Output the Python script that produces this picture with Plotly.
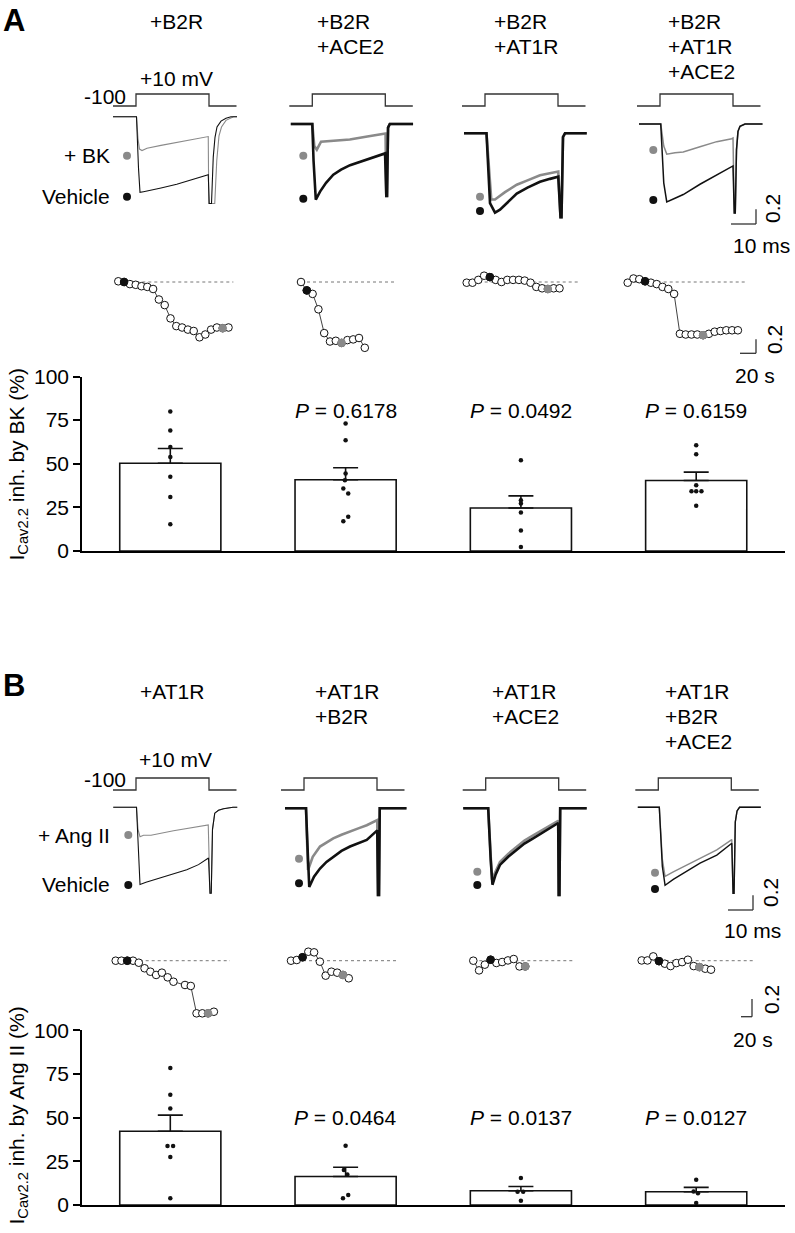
import plotly.graph_objects as go

W, H = 795, 1233
FONT = "Arial, Liberation Sans, sans-serif"
FS = 21
BLACK = "#111111"
GRAY = "#8a8a8a"
VCOL = "#333333"

# ---------------- data ----------------
LABELS_A = [["+B2R"], ["+B2R", "+ACE2"], ["+B2R", "+AT1R"], ["+B2R", "+AT1R", "+ACE2"]]
LABELS_B = [["+AT1R"], ["+AT1R", "+B2R"], ["+AT1R", "+ACE2"], ["+AT1R", "+B2R", "+ACE2"]]

# voltage protocol (ms, mV)
V_T = [-9.2, 0, 0, 29.2, 29.2, 40.2]
V_MV = [-100, -100, 10, 10, -100, -100]

# current traces (ms, normalised current); VEH = vehicle, BK / ANG = agonist
A1_VEH_T = [-9.2, 0.2, 1.0, 1.6, 3.0, 6.0, 10.0, 16.3, 22.0, 28.9, 29.3, 30.2, 30.9, 31.6, 32.4, 34.0, 36.0, 38.0, 40.4]
A1_VEH_I = [0.0, 0.0, -0.7, -1.03, -1.02, -1.0, -0.97, -0.92, -0.86, -0.79, -1.18, -1.18, -0.55, -0.28, -0.14, -0.06, -0.02, 0.0, 0.0]
A1_BK_T = [-9.2, 0.2, 0.8, 1.4, 2.4, 4.4, 10.0, 16.3, 22.0, 28.9, 29.1, 31.5, 32.3, 33.2, 34.2, 36.0, 39.0, 40.4]
A1_BK_I = [0.0, 0.0, -0.3, -0.44, -0.46, -0.43, -0.39, -0.35, -0.31, -0.27, -1.18, -1.18, -0.6, -0.26, -0.14, -0.05, 0.0, 0.0]

A2_VEH_T = [-8.6, 0.0, 0.5, 1.4, 3.1, 5.5, 8.4, 11.5, 15.1, 21.8, 29.1, 29.6, 29.9, 30.3, 31.0, 40.3]
A2_VEH_I = [0.0, 0.0, -0.5, -1.03, -0.92, -0.8, -0.69, -0.62, -0.56, -0.48, -0.40, -0.98, -0.98, -0.05, 0.0, 0.0]
A2_BK_T = [-8.6, 0.0, 0.8, 1.8, 3.5, 8.0, 15.0, 22.0, 29.3, 29.6, 29.9, 30.3, 31.0, 40.3]
A2_BK_I = [0.0, 0.0, -0.3, -0.35, -0.24, -0.23, -0.21, -0.17, -0.13, -0.98, -0.98, -0.05, 0.0, 0.0]

A3_VEH_T = [-8.4, 0.6, 2.0, 4.0, 6.0, 9.0, 12.7, 17.0, 22.0, 26.0, 29.3, 30.2, 30.6, 31.2, 32.0, 40.7]
A3_VEH_I = [0.0, 0.0, -0.95, -1.08, -1.04, -0.94, -0.82, -0.74, -0.66, -0.62, -0.59, -1.14, -1.14, -0.05, 0.0, 0.0]
A3_BK_T = [-8.4, 0.6, 2.5, 4.0, 8.0, 12.7, 17.0, 22.0, 29.3, 30.2, 30.6, 31.2, 32.0, 40.7]
A3_BK_I = [0.0, 0.0, -0.9, -0.9, -0.8, -0.70, -0.64, -0.57, -0.52, -1.14, -1.14, -0.05, 0.0, 0.0]

A4_VEH_T = [-8.4, 0.3, 1.5, 2.7, 6.0, 9.3, 16.0, 22.7, 29.2, 29.7, 30.1, 30.6, 31.2, 32.0, 34.0, 41.0]
A4_VEH_I = [0.0, 0.0, -0.8, -1.06, -1.01, -0.96, -0.82, -0.69, -0.57, -1.21, -1.21, -0.35, -0.1, -0.03, 0.0, 0.0]
A4_BK_T = [-8.4, 0.3, 1.5, 2.7, 6.0, 9.3, 16.0, 22.7, 28.7, 29.2, 29.7, 30.1, 30.6, 31.2, 32.0, 34.0, 41.0]
A4_BK_I = [0.0, 0.0, -0.3, -0.41, -0.39, -0.38, -0.31, -0.24, -0.20, -0.19, -1.21, -1.21, -0.35, -0.1, -0.03, 0.0, 0.0]

B1_VEH_T = [-9.1, 0.2, 1.0, 1.6, 4.0, 8.0, 12.3, 16.0, 20.3, 25.0, 29.0, 29.6, 30.1, 30.6, 31.5, 33.0, 35.0, 38.8, 40.5]
B1_VEH_I = [0.0, 0.0, -0.6, -1.05, -1.02, -0.98, -0.94, -0.90, -0.85, -0.78, -0.69, -1.17, -1.17, -0.3, -0.08, -0.04, -0.02, 0.0, 0.0]
B1_ANG_T = [-9.1, 0.2, 0.8, 1.6, 3.0, 6.0, 15.0, 22.0, 28.9, 29.6, 30.1, 30.6, 31.5, 33.0, 35.0, 38.8, 40.5]
B1_ANG_I = [0.0, 0.0, -0.3, -0.40, -0.38, -0.38, -0.32, -0.28, -0.24, -1.17, -1.17, -0.3, -0.08, -0.04, -0.02, 0.0, 0.0]

B2_VEH_T = [-7.6, 0.8, 1.5, 2.1, 4.0, 6.4, 9.0, 11.7, 15.0, 18.4, 22.0, 25.1, 29.3, 29.6, 30.0, 30.3, 41.0]
B2_VEH_I = [0.0, 0.0, -0.6, -1.07, -0.93, -0.82, -0.73, -0.66, -0.58, -0.52, -0.47, -0.43, -0.30, -1.18, -1.18, 0.0, 0.0]
B2_ANG_T = [-7.6, 0.8, 1.6, 3.5, 6.4, 9.0, 11.7, 15.0, 18.4, 22.0, 25.1, 29.3, 29.6, 30.0, 30.3, 41.0]
B2_ANG_I = [0.0, 0.0, -0.84, -0.66, -0.52, -0.46, -0.41, -0.36, -0.32, -0.27, -0.23, -0.16, -1.18, -1.18, 0.0, 0.0]

B3_VEH_T = [-9.0, 1.0, 2.0, 2.7, 4.0, 5.7, 9.0, 12.3, 15.5, 19.0, 22.5, 25.7, 29.0, 29.2, 29.5, 29.8, 40.4]
B3_VEH_I = [0.0, 0.0, -0.7, -1.04, -0.9, -0.77, -0.66, -0.57, -0.48, -0.41, -0.34, -0.27, -0.20, -1.18, -1.18, 0.0, 0.0]
B3_ANG_T = [-9.0, 1.0, 2.5, 4.0, 5.7, 9.0, 12.3, 15.5, 19.0, 22.5, 25.7, 29.0, 29.2, 29.5, 29.8, 40.4]
B3_ANG_I = [0.0, 0.0, -0.97, -0.85, -0.73, -0.62, -0.53, -0.44, -0.37, -0.30, -0.24, -0.17, -1.18, -1.18, 0.0, 0.0]

B4_VEH_T = [-8.2, 0.4, 1.6, 2.7, 6.0, 10.0, 16.7, 23.4, 29.4, 29.9, 30.3, 30.8, 31.5, 32.5, 41.0]
B4_VEH_I = [0.0, 0.0, -0.8, -1.06, -0.98, -0.90, -0.76, -0.65, -0.49, -1.17, -1.17, -0.2, -0.05, 0.0, 0.0]
B4_ANG_T = [-8.2, 0.4, 1.6, 2.7, 6.0, 10.0, 16.7, 23.4, 29.4, 29.9, 30.3, 30.8, 31.5, 32.5, 41.0]
B4_ANG_I = [0.0, 0.0, -0.7, -0.94, -0.88, -0.81, -0.69, -0.58, -0.44, -1.17, -1.17, -0.2, -0.05, 0.0, 0.0]

# time courses (s, normalised amplitude)
TC_T_A = [0, 7.25, 14.5, 21.75, 29, 36.25, 43.5, 50.75, 58, 65.25, 72.5, 79.75, 87, 94.25,
          101.5, 108.75, 116, 123.25, 130.5, 137.75]
TC_T_B = [0, 10.5, 21, 31.5, 42, 52.5, 63, 73.5, 84, 94.5, 105, 115.5, 126, 136.5, 147, 157.5, 168, 178.5]
A1_TC = [1.01, 1.00, 0.97, 0.96, 0.94, 0.93, 0.90, 0.75, 0.67, 0.48, 0.37, 0.35, 0.32, 0.30, 0.21, 0.25, 0.32, 0.35, 0.34, 0.35]
A2_TC = [1.0, 0.88, 0.83, 0.61, 0.27, 0.15, 0.16, 0.13, 0.17, 0.18, 0.20, 0.06]
A3_TC = [0.99, 0.99, 1.03, 1.09, 1.07, 1.03, 1.00, 1.03, 1.03, 1.03, 1.02, 0.99, 0.93, 0.91, 0.90, 0.91, 0.91]
A4_TC = [0.99, 1.05, 1.04, 1.01, 0.99, 0.97, 0.93, 0.90, 0.83, 0.26, 0.25, 0.25, 0.25, 0.24, 0.26, 0.29, 0.30, 0.31, 0.31, 0.31]
B1_TC = [1.0, 1.0, 1.0, 1.0, 0.977, 0.914, 0.875, 0.838, 0.864, 0.811, 0.761, None, 0.724, 0.713, 0.402, 0.402, 0.402, 0.420]
B2_TC = [1.0, 1.008, 1.039, 1.102, 1.095, 0.989, 0.83, 0.875, 0.864, 0.838, 0.80]
B3_TC = [1.0, 0.89, 0.955, 1.011, 0.974, 0.985, 1.003, 1.019, 0.935, 0.935]
B4_TC = [1.003, 1.003, 1.049, 0.995, 0.966, 0.939, 0.973, 0.984, 1.011, 0.939, 0.927, 0.909, 0.898]
TC_MARK_A = [(1, 18), (1, 7), (4, 14), (3, 13)]   # (vehicle sweep, agonist sweep)
TC_MARK_B = [(2, 16), (2, 9), (3, 9), (3, 10)]
TC_END_A = [143.8, 120, 141.6, 148.8]             # end of dotted baseline (s)
TC_END_B = [207.8, 192.7, 181.8, 202.9]

# bar chart data (% inhibition)
BAR_X = [0, 1, 2, 3]
A_MEAN = [50.3, 40.8, 24.6, 40.4]
A_SEM = [8.4, 6.9, 7.0, 4.8]
A_PTS_1 = [80.0, 69.1, 59.6, 53.9, 42.5, 30.9, 15.4]
A_PTS_2 = [73.0, 63.4, 44.4, 40.6, 35.8, 33.0, 19.6, 17.1]
A_PTS_3 = [52.0, 29.1, 27.2, 22.1, 11.8, 2.3]
A_PTS_4 = [60.6, 55.4, 37.7, 34.3, 34.3, 34.3, 25.9]
A_P = ["", "0.6178", "0.0492", "0.6159"]

B_MEAN = [42.2, 16.3, 8.2, 7.6]
B_SEM = [9.3, 5.3, 2.4, 2.5]
B_PTS_1 = [78.4, 63.1, 55.3, 33.8, 33.8, 27.5, 3.8]
B_PTS_2 = [34.0, 20.1, 17.4, 5.7, 3.8]
B_PTS_3 = [15.5, 7.6, 7.6, 2.5]
B_PTS_4 = [14.5, 7.8, 6.7, 1.1]
B_P = ["", "0.0464", "0.0137", "0.0127"]

# ---------------- layout geometry (pixels) ----------------
A_JIT = [[0] * 7, [0, 0, 0, -0.004, -0.013, 0.015, 0.015, -0.013], [0] * 6, [0, 0, 0, -0.027, 0, 0.03, 0]]
B_JIT = [[0, 0, 0, -0.016, 0.016, 0, 0], [0, -0.01, 0.01, 0.015, -0.015], [0, -0.019, 0.013, 0], [0, -0.015, 0.01, 0]]

PX_PER_MS = 2.5
PX_PER_I = 73.5
PX_PER_MV = 12 / 110
SB_MS, SB_I, SB_TC_S, SB_TC_U = 10, 0.2, 20, 0.2

PANELS = {
    "A": dict(xs=[136, 312.3, 485, 660], yb=[116.7, 124, 133.3, 124], yv=106,
              tcx=[118.3, 301, 466.7, 627.7], tcy=282.0, tc_s=0.8, tc_u=70.0,
              bar=(376.5, 551), lbl_x=[147.7, 315, 491.7, 666], lbl_y=21.7),
    "B": dict(xs=[136, 304, 485.7, 658.3], yb=[807.3, 808.3, 808.3, 807.3], yv=790,
              tcx=[115.7, 291, 473.3, 641.7], tcy=960.7, tc_s=0.55, tc_u=88.0,
              bar=(1030.4, 1205), lbl_x=[138.3, 313.3, 490, 663.3], lbl_y=691.7),
}

fig = go.Figure()
axes = {}
n_ax = [0]
ann = []
shapes = []


def new_axes(x0, x1, y0, y1, xr, yr):
    n_ax[0] += 1
    k = n_ax[0]
    s = "" if k == 1 else str(k)
    axes["xaxis" + s] = dict(domain=[x0 / W, x1 / W], range=xr, visible=False, fixedrange=True,
                             anchor="y" + s, automargin=False)
    axes["yaxis" + s] = dict(domain=[1 - y1 / H, 1 - y0 / H], range=yr, visible=False, fixedrange=True,
                             anchor="x" + s, automargin=False)
    return "x" + s, "y" + s


def text(t, x, y, size=FS, xanchor="center", angle=0):
    ann.append(dict(text=t, x=x / W, y=1 - y / H, xref="paper", yref="paper", showarrow=False,
                    xanchor=xanchor, yanchor="middle", textangle=angle,
                    font=dict(family=FONT, size=size, color="black")))


def seg(x0, y0, x1, y1, w=1.3, color=VCOL):
    shapes.append(dict(type="line", xref="paper", yref="paper", x0=x0 / W, y0=1 - y0 / H,
                       x1=x1 / W, y1=1 - y1 / H, line=dict(color=color, width=w)))


def keydot(x, y, color, d=8):
    shapes.append(dict(type="circle", xref="paper", yref="paper", x0=(x - d / 2) / W, x1=(x + d / 2) / W,
                       y0=1 - (y + d / 2) / H, y1=1 - (y - d / 2) / H, fillcolor=color,
                       line=dict(color=color, width=0)))


def line_trace(x, y, xa, ya, color, width, dash="solid"):
    fig.add_trace(go.Scatter(x=x, y=y, mode="lines", line=dict(color=color, width=width, dash=dash),
                             xaxis=xa, yaxis=ya, hoverinfo="skip", cliponaxis=True))


def draw_traces(P, c, veh, drug, wid):
    xs, yb, yv = P["xs"][c], P["yb"][c], P["yv"]
    xr = [-30 / PX_PER_MS, 115 / PX_PER_MS]
    xa, ya = new_axes(xs - 30, xs + 115, yv - 16, yv + 4, xr,
                      [-100 - 4 / PX_PER_MV, -100 + 16 / PX_PER_MV])
    line_trace(V_T, V_MV, xa, ya, VCOL, 1.3)
    xa, ya = new_axes(xs - 30, xs + 115, yb - 10, yb + 100, xr, [-100 / PX_PER_I, 10 / PX_PER_I])
    line_trace(drug[0], drug[1], xa, ya, GRAY, wid)
    line_trace(veh[0], veh[1], xa, ya, BLACK, wid)


def draw_tc(P, c, tt, vals, marks, t_end):
    x0, yt, ps, pu = P["tcx"][c], P["tcy"], P["tc_s"], P["tc_u"]
    xa, ya = new_axes(x0 - 10, x0 + 145, yt - 25, yt + 75, [-10 / ps, 145 / ps], [1 - 75 / pu, 1 + 25 / pu])
    line_trace([0, t_end], [1, 1], xa, ya, "#777777", 1, "dot")
    t = tt[:len(vals)]
    fig.add_trace(go.Scatter(x=t, y=vals, mode="lines+markers", connectgaps=True,
                             line=dict(color=BLACK, width=0.8),
                             marker=dict(size=7.6, color="white", line=dict(color=BLACK, width=1)),
                             xaxis=xa, yaxis=ya, hoverinfo="skip", cliponaxis=False))
    for idx, col in zip(marks, [BLACK, GRAY]):
        fig.add_trace(go.Scatter(x=[t[idx]], y=[vals[idx]], mode="markers",
                                 marker=dict(size=7.6, color=col, line=dict(color=col, width=1)),
                                 xaxis=xa, yaxis=ya, hoverinfo="skip", cliponaxis=False))


def draw_bars(P, means, sems, pts_list, jit_list, pvals, p_y):
    y0, y1 = P["bar"]
    c0, sp = 170.3, 175.3
    xa, ya = new_axes(82, 785, y0, y1, [(82 - c0) / sp, (785 - c0) / sp], [0, 100])
    kx = "xaxis" + xa[1:]
    ky = "yaxis" + ya[1:]
    axes[kx].update(visible=True, showline=True, linecolor="black", linewidth=1.6, ticks="",
                    showticklabels=False, showgrid=False, zeroline=False)
    axes[ky].update(visible=True, showline=True, linecolor="black", linewidth=1.6, ticks="outside",
                    ticklen=7, tickwidth=1.6, tickcolor="black", tickvals=[0, 25, 50, 75, 100],
                    tickfont=dict(family=FONT, size=FS, color="black"), showgrid=False, zeroline=False)
    fig.add_trace(go.Bar(x=BAR_X, y=means, width=0.577,
                         marker=dict(color="white", line=dict(color=BLACK, width=1.6)),
                         error_y=dict(type="data", symmetric=False, array=sems, arrayminus=[0] * 4,
                                      color=BLACK, thickness=1.6, width=12.5),
                         xaxis=xa, yaxis=ya, hoverinfo="skip"))
    for i, (pts, jit) in enumerate(zip(pts_list, jit_list)):
        fig.add_trace(go.Scatter(x=[i + j for j in jit], y=pts, mode="markers",
                                 marker=dict(size=4.5, color=BLACK), xaxis=xa, yaxis=ya,
                                 hoverinfo="skip", cliponaxis=False))
    for i, p in enumerate(pvals):
        if p:
            ann.append(dict(text="<i>P</i> = " + p, x=i, y=p_y, xref=xa, yref=ya, showarrow=False,
                            xanchor="center", yanchor="middle",
                            font=dict(family=FONT, size=FS, color="black")))


# ---------------- panel A ----------------
PA = PANELS["A"]
text("<b>A</b>", 14, 20, size=31)
for c, lines in enumerate(LABELS_A):
    for k, ln in enumerate(lines):
        text(ln, PA["lbl_x"][c], PA["lbl_y"] + 25 * k, xanchor="left")
text("-100", 128, 96.7, xanchor="right")
text("+10 mV", 176.7, 78.7)
text("+ BK", 112, 155.7, xanchor="right")
text("Vehicle", 112, 196.7, xanchor="right")
for (gx, gy, bx, by) in [(127, 155.7, 127, 196.7), (303.3, 155.7, 303.3, 198.7),
                         (480, 196.7, 480, 211), (653.3, 150, 653.3, 200)]:
    keydot(gx, gy, GRAY)
    keydot(bx, by, BLACK)

draw_traces(PA, 0, (A1_VEH_T, A1_VEH_I), (A1_BK_T, A1_BK_I), 1.1)
draw_traces(PA, 1, (A2_VEH_T, A2_VEH_I), (A2_BK_T, A2_BK_I), 2.6)
draw_traces(PA, 2, (A3_VEH_T, A3_VEH_I), (A3_BK_T, A3_BK_I), 2.6)
draw_traces(PA, 3, (A4_VEH_T, A4_VEH_I), (A4_BK_T, A4_BK_I), 1.5)

for c, (vals, mk, te) in enumerate(zip([A1_TC, A2_TC, A3_TC, A4_TC], TC_MARK_A, TC_END_A)):
    draw_tc(PA, c, TC_T_A, vals, mk, te)

draw_bars(PA, A_MEAN, A_SEM, [A_PTS_1, A_PTS_2, A_PTS_3, A_PTS_4], A_JIT, A_P, 80.6)
text("I<sub>Cav2.2</sub> inh. by BK (%)", 17.5, 465, angle=-90)

# scale bars A
cx, cy = 756, 224
seg(cx - SB_MS * PX_PER_MS, cy, cx, cy)
seg(cx, cy - SB_I * PX_PER_I, cx, cy)
text("0.2", 773, 209, angle=-90)
text("10 ms", 761, 245.7)
cx, cy = 756, 353.3
seg(cx - SB_TC_S * PA["tc_s"], cy, cx, cy)
seg(cx, cy - SB_TC_U * PA["tc_u"], cx, cy)
text("0.2", 774, 340, angle=-90)
text("20 s", 755, 375.7)

# ---------------- panel B ----------------
PB = PANELS["B"]
text("<b>B</b>", 14, 686, size=31)
for c, lines in enumerate(LABELS_B):
    for k, ln in enumerate(lines):
        text(ln, PB["lbl_x"][c], PB["lbl_y"] + 25 * k, xanchor="left")
text("-100", 128.3, 779.7, xanchor="right")
text("+10 mV", 175, 760)
text("+ Ang II", 111.7, 835.5, xanchor="right")
text("Vehicle", 111.7, 884, xanchor="right")
for (gx, gy, bx, by) in [(128.3, 835, 128.3, 885), (299, 858.7, 299, 883.3),
                         (477.3, 871.7, 477.3, 885), (655, 872.7, 655, 889)]:
    keydot(gx, gy, GRAY)
    keydot(bx, by, BLACK)

draw_traces(PB, 0, (B1_VEH_T, B1_VEH_I), (B1_ANG_T, B1_ANG_I), 1.1)
draw_traces(PB, 1, (B2_VEH_T, B2_VEH_I), (B2_ANG_T, B2_ANG_I), 2.6)
draw_traces(PB, 2, (B3_VEH_T, B3_VEH_I), (B3_ANG_T, B3_ANG_I), 2.6)
draw_traces(PB, 3, (B4_VEH_T, B4_VEH_I), (B4_ANG_T, B4_ANG_I), 1.4)

for c, (vals, mk, te) in enumerate(zip([B1_TC, B2_TC, B3_TC, B4_TC], TC_MARK_B, TC_END_B)):
    draw_tc(PB, c, TC_T_B, vals, mk, te)

draw_bars(PB, B_MEAN, B_SEM, [B_PTS_1, B_PTS_2, B_PTS_3, B_PTS_4], B_JIT, B_P, 50)
text("I<sub>Cav2.2</sub> inh. by Ang II (%)", 17.5, 1116, angle=-90)

cx, cy = 753, 910
seg(cx - SB_MS * PX_PER_MS, cy, cx, cy)
seg(cx, cy - SB_I * PX_PER_I, cx, cy)
text("0.2", 770, 893, angle=-90)
text("10 ms", 752.5, 930)
cx, cy = 752, 1016.7
seg(cx - SB_TC_S * PB["tc_s"], cy, cx, cy)
seg(cx, cy - SB_TC_U * PB["tc_u"], cx, cy)
text("0.2", 771, 1000, angle=-90)
text("20 s", 753, 1039)

fig.update_layout(axes)
fig.update_layout(template="none", width=W, height=H, margin=dict(l=0, r=0, t=0, b=0, pad=0),
                  autosize=False, showlegend=False,
                  paper_bgcolor="white", plot_bgcolor="rgba(0,0,0,0)",
                  font=dict(family=FONT, color="black"), annotations=ann, shapes=shapes)
fig.write_html("out.html", config={"displayModeBar": False},
               post_script="document.body.style.margin='0px';document.body.style.padding='0px';")
